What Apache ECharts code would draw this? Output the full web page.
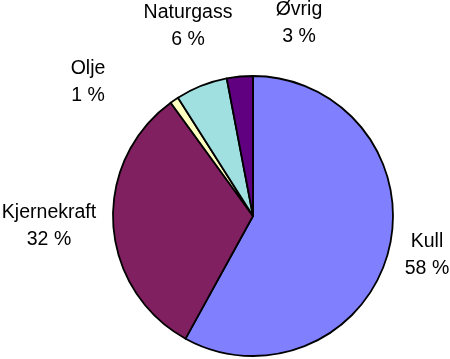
<!DOCTYPE html>
<html><head><meta charset="utf-8">
<script src="https://cdn.jsdelivr.net/npm/echarts@6/dist/echarts.min.js"></script>
<style>html,body{margin:0;padding:0;background:#fff}#c{width:450px;height:359px}</style>
</head><body><div id="c"></div>
<script>
const categories = ['Kull', 'Kjernekraft', 'Olje', 'Naturgass', 'Øvrig'];
const values = [58, 32, 1, 6, 3];
const colors = ['#8080FF', '#802060', '#FFFFC0', '#A0E0E0', '#600080'];
const labelPos = [[427, 255], [49, 226], [88, 82], [188, 26], [299, 23]];

const chart = echarts.init(document.getElementById('c'), null, {renderer: 'canvas'});
chart.setOption({
  animation: false,
  series: [{
    type: 'pie',
    center: [253, 216],
    radius: 140,
    startAngle: 90,
    clockwise: true,
    data: categories.map((n, i) => ({name: n, value: values[i], itemStyle: {color: colors[i]}})),
    itemStyle: {borderColor: '#000', borderWidth: 1.8},
    label: {
      show: true,
      position: 'inside',
      overflow: 'none',
      formatter: p => p.name + '\n' + p.value + ' %',
      fontFamily: 'Liberation Sans, Arial, sans-serif',
      fontSize: 19.5,
      lineHeight: 27,
      color: '#000',
      align: 'center'
    },
    labelLine: {show: false},
    emphasis: {disabled: true},
    labelLayout: function (params) {
      const p = labelPos[params.dataIndex];
      return {x: p[0], y: p[1], align: 'center', verticalAlign: 'middle', hideOverlap: false};
    }
  }]
});
</script></body></html>
